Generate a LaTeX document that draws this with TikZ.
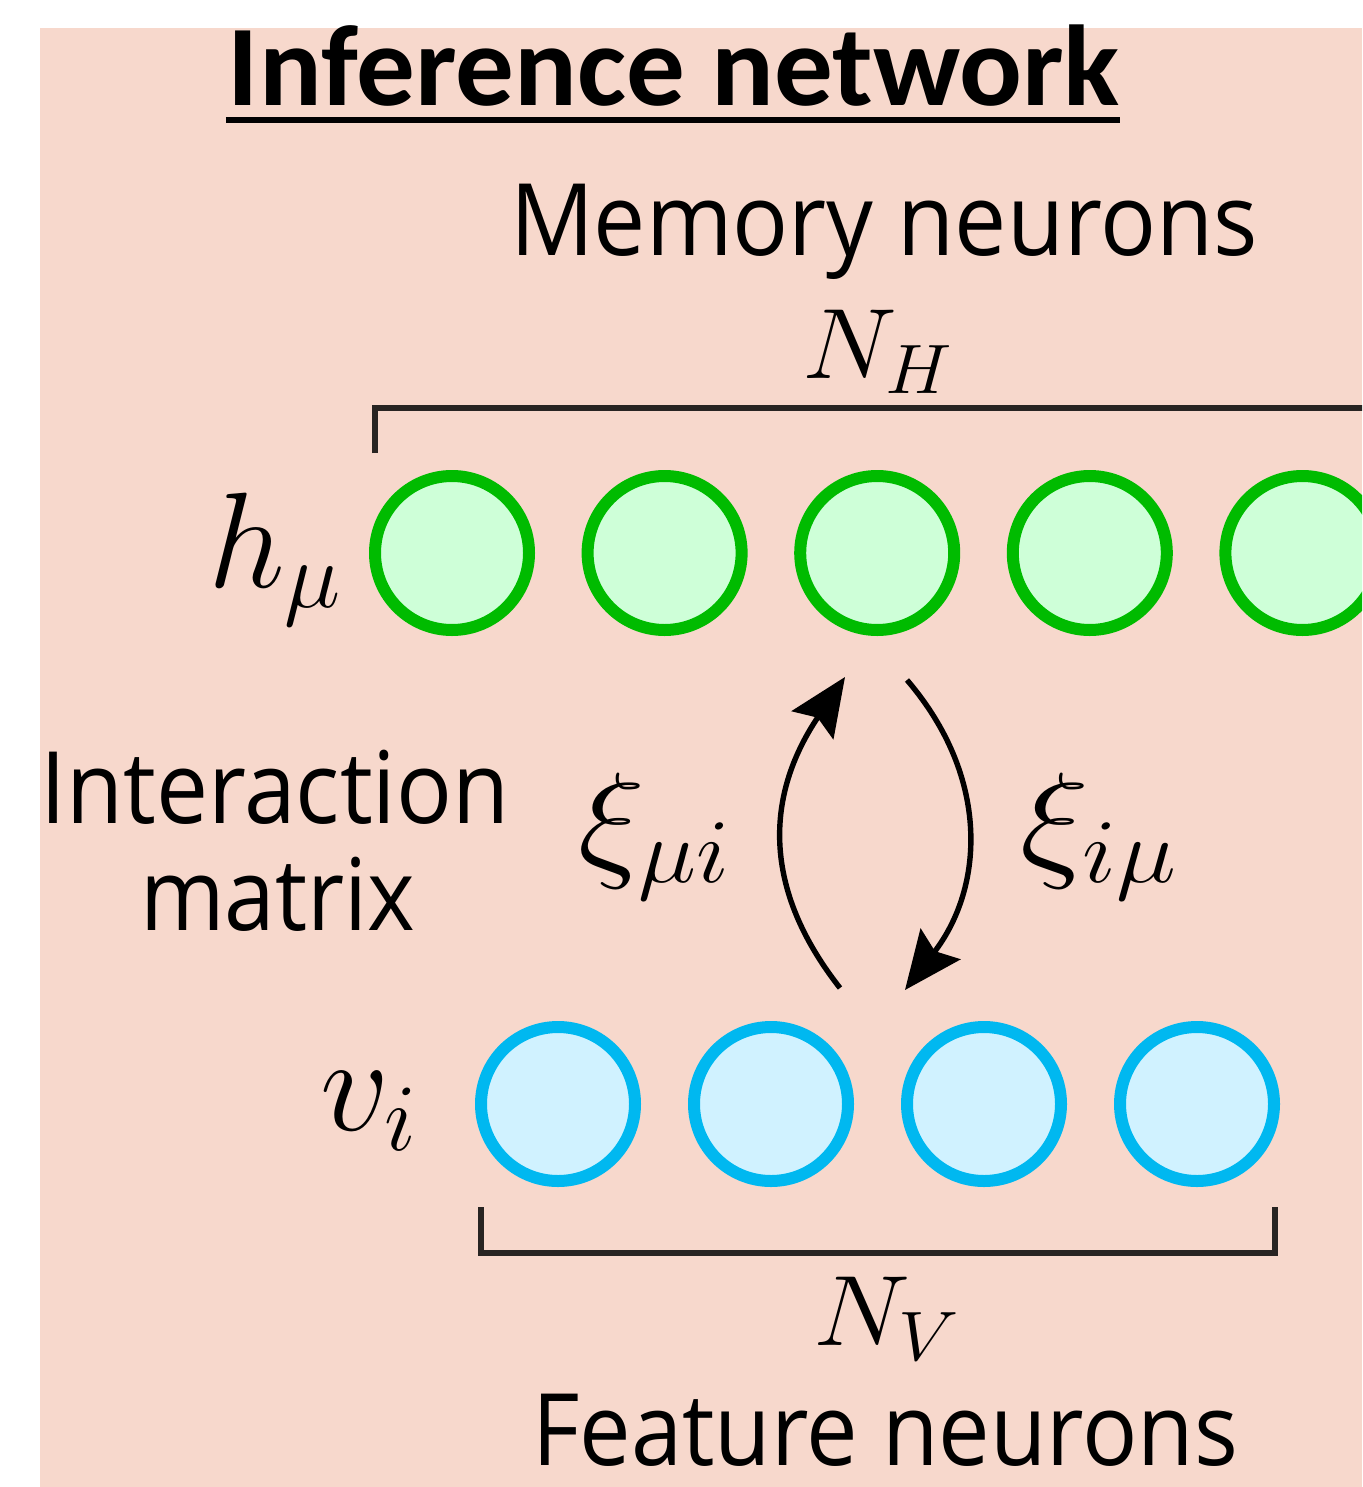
\RequirePackage{fix-cm}
\documentclass[tikz,border=0pt]{standalone}
\usepackage{fontspec}
\usepackage{graphicx}
\usetikzlibrary{arrows.meta}
\newfontfamily\titlefont{Carlito}
\newfontfamily\labelfont{Open Sans}

\definecolor{bgpeach}{RGB}{247,216,204}
\definecolor{memline}{RGB}{0,187,0}
\definecolor{memfill}{RGB}{206,255,216}
\definecolor{featline}{RGB}{0,184,240}
\definecolor{featfill}{RGB}{208,242,255}
\definecolor{inkdark}{RGB}{40,36,34}

\tikzset{
  txt/.style={inner sep=0pt, outer sep=0pt},
  memcircle/.style={circle, draw=memline, fill=memfill, line width=6pt,
    minimum size=77pt, inner sep=0pt},
  featcircle/.style={circle, draw=featline, fill=featfill, line width=6pt,
    minimum size=77pt, inner sep=0pt},
  bracket/.style={draw=inkdark, line width=3.3pt},
  flow/.style={line width=2.7pt,
    -{Stealth[length=29pt, width=25pt, inset=4.5pt]}},
}

\begin{document}
\begin{tikzpicture}[x=0.5pt, y=-0.5pt]
  \useasboundingbox (0,0) rectangle (1362,1487);
  \clip (0,0) rectangle (1362,1487);
  \fill[white] (0,0) rectangle (1362,1487);
  \fill[bgpeach] (40,28) rectangle (1362,1487);

  % title with underline
  \node[txt, anchor=base] (title) at (674,106)
    {\resizebox{446pt}{\height}{\titlefont\bfseries\fontsize{57.5}{60}\selectfont Inference network}};
  \draw[line width=3pt] ([xshift=-1pt, yshift=-7pt]title.base west) -- ([yshift=-7pt]title.base east);

  % memory layer
  \node[txt, anchor=base] (memlabel) at (884,255)
    {\resizebox{374pt}{\height}{\labelfont\fontsize{50}{60}\selectfont Memory neurons}};
  \node[txt, anchor=base west] (nh) at (802,378)
    {\resizebox{75.5pt}{\height}{\fontsize{50}{60}\selectfont $N_H$}};
  \draw[bracket] (375,453) -- (375,408) -- (1370,408);
  \node[txt, anchor=base west] (hmu) at (208,587)
    {\fontsize{68}{80}\selectfont $h_\mu$};
  \foreach \k in {1,...,5} {
    \node[memcircle] (h\k) at ({452+212.6*(\k-1)},553) {};
  }

  % interaction matrix
  \node[txt, anchor=base] (inter) at (275,823)
    {\resizebox{234.5pt}{\height}{\labelfont\fontsize{50}{60}\selectfont Interaction}};
  \node[txt, anchor=base] (matrix) at (277.5,930)
    {\resizebox{137.5pt}{\height}{\labelfont\fontsize{50}{60}\selectfont matrix}};
  \node[txt, anchor=base west] (xiup) at (578,863)
    {\resizebox{76pt}{\height}{\fontsize{65}{75}\selectfont $\xi_{\mu i}$}};
  \node[txt, anchor=base west] (xidown) at (1020,863)
    {\resizebox{78.5pt}{\height}{\fontsize{65}{75}\selectfont $\xi_{i\mu}$}};

  \coordinate (up-start) at (840,988);
  \coordinate (up-end) at (845,677);
  \coordinate (down-start) at (907,680);
  \coordinate (down-end) at (905,990);
  \draw[flow] (up-start) .. controls (756.6,881.7) and (769.7,788.6) .. (up-end);
  \draw[flow] (down-start) .. controls (990.9,778) and (983.7,888) .. (down-end);

  % feature layer
  \node[txt, anchor=base west] (vi) at (320,1130)
    {\fontsize{68}{80}\selectfont $v_i$};
  \foreach \k in {1,...,4} {
    \node[featcircle] (v\k) at ({558+213*(\k-1)},1104) {};
  }
  \draw[bracket] (481,1207) -- (481,1253) -- (1275,1253) -- (1275,1207);
  \node[txt, anchor=base west] (nv) at (813,1345)
    {\resizebox{73.5pt}{\height}{\fontsize{50}{60}\selectfont $N_V$}};
  \node[txt, anchor=base] (featlabel) at (885,1465)
    {\resizebox{353pt}{\height}{\labelfont\fontsize{50}{60}\selectfont Feature neurons}};
\end{tikzpicture}
\end{document}
